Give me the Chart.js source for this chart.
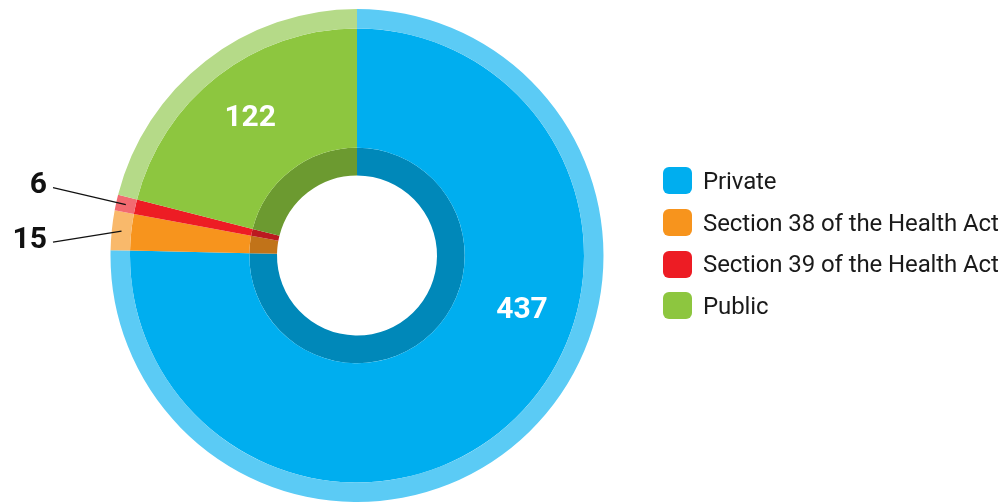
<!DOCTYPE html>
<html>
<head>
<meta charset="utf-8">
<script src="https://cdn.jsdelivr.net/npm/chart.js@4"></script>
<style>
    html, body { margin: 0; padding: 0; background: #fff; }
    #wrap { position: relative; width: 1008px; height: 504px; overflow: hidden; }
    #chart { position: absolute; left: 0; top: 0; }
    #legend { position: absolute; left: 663px; top: 160px; font-family: Roboto, sans-serif; }
    .legend-item { position: relative; height: 41.7px; display: flex; align-items: center; }
    .legend-box { width: 29px; height: 27px; border-radius: 6px; margin-right: 11px; flex: none; }
    .legend-text { font-size: 24px; color: #1a1a1a; white-space: nowrap; letter-spacing: -0.1px; }
</style>
</head>
<body>
<div id="wrap">
    <canvas id="chart" width="1008" height="504"></canvas>
    <div id="legend"></div>
</div>
<script>
// Chart data
const categories = ['Private', 'Section 38 of the Health Act', 'Section 39 of the Health Act', 'Public'];
const counts = [437, 15, 6, 122];

// Colours per ring: outer band, main ring, inner band
const mainColors = ['#00aeef', '#f7941d', '#ed1c24', '#8dc63f'];
const lightColors = ['#5bcbf5', '#f9b96b', '#f26a70', '#b5da88'];
const darkColors = ['#0088b9', '#c17319', '#bb1a20', '#6c9a30'];

// How each value is labelled: inside the slice or with a leader line
const labelStyle = ['inside', 'callout', 'callout', 'inside'];
const insidePosition = [0.4, 0.5, 0.5, 0.5];   // fraction along the slice
const calloutShift = [0, 11, -17, 0];           // leader start, relative to the slice

/**
 * Draws the value labels on top of the rings
 */
const valueLabels = {
    id: 'valueLabels',
    afterDatasetsDraw(chart) {
        const ctx = chart.ctx;
        const mainArcs = chart.getDatasetMeta(1).data;
        const outerArcs = chart.getDatasetMeta(0).data;

        ctx.save();
        mainArcs.forEach((arc, i) => {
            const p = arc.getProps(['x', 'y', 'startAngle', 'endAngle', 'innerRadius', 'outerRadius'], true);
            if (labelStyle[i] === 'inside') {
                const a = p.startAngle + (p.endAngle - p.startAngle) * insidePosition[i];
                const r = 174;
                ctx.fillStyle = '#ffffff';
                ctx.font = 'bold 30px Roboto, sans-serif';
                ctx.textAlign = 'center';
                ctx.textBaseline = 'middle';
                ctx.fillText(String(counts[i]), p.x + Math.cos(a) * r, p.y + Math.sin(a) * r);
            } else {
                const o = outerArcs[i].getProps(['innerRadius', 'outerRadius'], true);
                const a = (p.startAngle + p.endAngle) / 2;
                const r = (o.innerRadius + o.outerRadius) / 2;
                const ex = p.x + Math.cos(a) * r;
                const ey = p.y + Math.sin(a) * r;
                const sx = 53;
                const sy = ey + calloutShift[i];
                ctx.strokeStyle = '#111111';
                ctx.lineWidth = 1.3;
                ctx.beginPath();
                ctx.moveTo(sx, sy);
                ctx.lineTo(ex, ey);
                ctx.stroke();
                ctx.fillStyle = '#111111';
                ctx.font = 'bold 30px Roboto, sans-serif';
                ctx.textAlign = 'right';
                ctx.textBaseline = 'middle';
                ctx.fillText(String(counts[i]), sx - 6, sy - 2);
            }
        });
        ctx.restore();
    }
};

const ctx = document.getElementById('chart').getContext('2d');

new Chart(ctx, {
    type: 'doughnut',
    data: {
        labels: categories,
        datasets: [{
            data: counts,
            backgroundColor: lightColors,
            borderWidth: 0,
            weight: 19.5
        }, {
            data: counts,
            backgroundColor: mainColors,
            borderWidth: 0,
            weight: 119.3
        }, {
            data: counts,
            backgroundColor: darkColors,
            borderWidth: 0,
            weight: 27.7
        }]
    },
    options: {
        responsive: false,
        animation: false,
        events: [],
        cutout: 80,
        layout: {
            padding: { left: 110.5, right: 404.5, top: 9, bottom: 2 }
        },
        plugins: {
            legend: { display: false },
            tooltip: { enabled: false }
        }
    },
    plugins: [valueLabels]
});

// HTML legend
const legend = document.getElementById('legend');
legend.innerHTML = categories.map((name, i) => `
    <div class="legend-item">
        <span class="legend-box" style="background:${mainColors[i]}"></span>
        <span class="legend-text">${name}</span>
    </div>
`).join('');
</script>
</body>
</html>
